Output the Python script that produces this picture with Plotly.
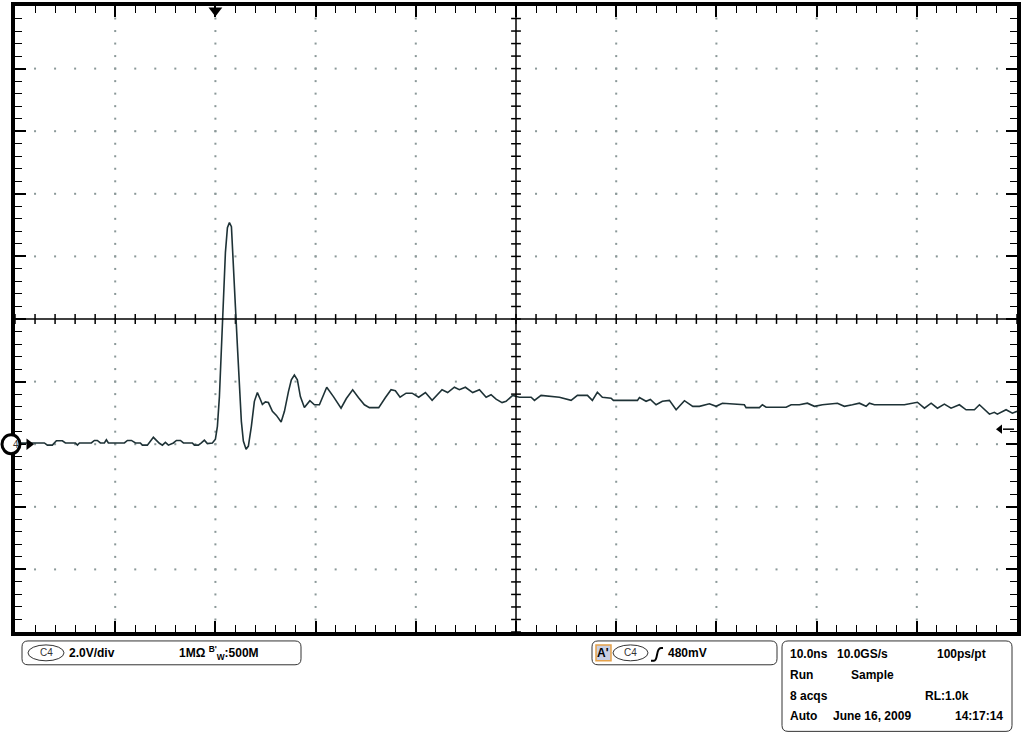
import numpy as np
import plotly.graph_objects as go

# Kanal 4, 2.0 V/div, 10 ns/div, trigger bei t = 0
t_ns = [-20.0, -17.07, -16.77, -16.27, -15.87, -15.27, -14.97, -13.97, -13.77, -13.57,
        -12.38, -12.08, -11.78, -11.48, -11.08, -10.88, -10.68, -9.08, -8.78, -8.38,
        -7.98, -7.49, -7.29, -6.79, -6.19, -5.59, -5.29, -4.99, -4.69, -4.19,
        -3.89, -3.49, -3.19, -2.30, -2.10, -1.70, -1.40, -1.10, -0.80, -0.30,
        0.0, 0.20, 0.40, 0.60, 0.80, 1.00, 1.20, 1.40, 1.60, 1.80,
        2.00, 2.20, 2.40, 2.59, 2.79, 3.06, 3.29, 3.59, 3.89, 4.19,
        4.49, 4.69, 4.99, 5.29, 5.69, 6.09, 6.56, 6.89, 7.29, 7.58,
        7.88, 8.18, 8.48, 8.88, 9.43, 9.88, 10.38, 11.11, 11.78, 12.54,
        13.07, 13.70, 14.27, 14.87, 15.37, 16.30, 16.97, 17.53, 17.96, 18.43,
        19.03, 19.63, 20.29, 20.96, 21.63, 22.62, 23.18, 23.85, 24.35, 24.95,
        25.68, 26.35, 27.02, 27.51, 28.01, 28.61, 29.01, 29.67, 30.34, 31.51,
        31.84, 32.50, 34.33, 35.50, 36.13, 37.13, 37.62, 38.12, 38.62, 39.49,
        39.72, 42.12, 42.32, 42.98, 43.41, 43.98, 44.61, 45.31, 45.98, 46.81,
        47.64, 48.30, 49.30, 49.97, 50.60, 52.79, 52.96, 54.29, 54.59, 54.96,
        56.96, 57.46, 58.28, 59.08, 59.78, 60.58, 62.08, 62.77, 63.57, 64.27,
        64.94, 65.27, 65.77, 66.27, 68.76, 70.06, 70.76, 71.43, 72.06, 72.75,
        73.42, 74.25, 74.92, 75.75, 76.25, 77.25, 77.74, 78.04, 78.91, 79.54,
        80.0]
v_volts = [0.04, 0.04, -0.03, -0.03, 0.11, 0.11, 0.04, 0.04, -0.03, 0.04,
           0.04, 0.12, 0.12, 0.04, 0.04, 0.14, 0.04, 0.04, 0.12, 0.12,
           0.04, 0.04, -0.03, -0.03, 0.22, 0.03, -0.03, 0.06, -0.03, 0.04,
           0.12, 0.12, 0.04, 0.04, -0.03, -0.03, 0.04, 0.13, 0.02, 0.04,
           0.16, 0.57, 1.52, 3.11, 4.70, 6.13, 6.92, 7.08, 6.95, 5.81,
           4.38, 3.11, 1.84, 0.73, 0.10, -0.16, -0.06, 0.57, 1.37, 1.65,
           1.43, 1.27, 1.35, 1.33, 1.05, 0.92, 0.71, 1.05, 1.68, 2.06,
           2.21, 2.06, 1.52, 1.17, 1.39, 1.26, 1.26, 1.82, 1.52, 1.15,
           1.46, 1.74, 1.49, 1.26, 1.17, 1.17, 1.49, 1.74, 1.71, 1.50,
           1.63, 1.63, 1.50, 1.65, 1.40, 1.74, 1.65, 1.82, 1.74, 1.82,
           1.65, 1.74, 1.50, 1.58, 1.44, 1.33, 1.37, 1.56, 1.50, 1.50,
           1.40, 1.56, 1.50, 1.40, 1.56, 1.56, 1.40, 1.66, 1.50, 1.47,
           1.40, 1.40, 1.49, 1.37, 1.43, 1.26, 1.37, 1.40, 1.10, 1.39,
           1.21, 1.21, 1.29, 1.21, 1.31, 1.26, 1.17, 1.17, 1.26, 1.18,
           1.18, 1.26, 1.26, 1.31, 1.21, 1.26, 1.31, 1.21, 1.26, 1.31,
           1.21, 1.31, 1.26, 1.26, 1.26, 1.34, 1.15, 1.31, 1.15, 1.28,
           1.15, 1.26, 1.10, 1.10, 1.26, 0.96, 1.02, 0.96, 1.10, 0.99,
           1.05]

# Einstellungen des Oszilloskops
time_div = 10.0     # ns/div
volt_div = 2.0      # V/div
t_left = -20.0      # Trigger 2 div vom linken Rand
v_bottom = -6.0     # Kanal-Nullpunkt 2 div unter der Mitte
ch_offset = 0.0
trig_time = 0.0
trig_level = 0.48

t_range = [t_left, t_left + 10 * time_div]
v_range = [v_bottom, v_bottom + 10 * volt_div]
t_mid = sum(t_range) / 2
v_mid = sum(v_range) / 2

W, H = 1024, 735
L, R, T, B = 15, 7, 2, 103
PW, PH = W - L - R, H - T - B
v_per_px = (v_range[1] - v_range[0]) / PH


def fx(p):
    return (p - L) / PW


def fy(p):
    return (H - B - p) / PH


def rbox(x0, y0, x1, y1, r=6):
    pt = lambda x, y: f"{fx(x):.5f},{fy(y):.5f}"
    return (f"M {pt(x0 + r, y0)} L {pt(x1 - r, y0)} Q {pt(x1, y0)} {pt(x1, y0 + r)} "
            f"L {pt(x1, y1 - r)} Q {pt(x1, y1)} {pt(x1 - r, y1)} "
            f"L {pt(x0 + r, y1)} Q {pt(x0, y1)} {pt(x0, y1 - r)} "
            f"L {pt(x0, y0 + r)} Q {pt(x0, y0)} {pt(x0 + r, y0)} Z")


fig = go.Figure()

# Punktraster
gx, gy = [], []
minor_t = np.arange(t_range[0], t_range[1] + 1e-9, time_div / 5)
minor_v = np.arange(v_range[0], v_range[1] + 1e-9, volt_div / 5)
for k in range(1, 10):
    if k == 5:
        continue
    xt = t_range[0] + k * time_div
    gx += [xt] * len(minor_v[1:-1])
    gy += list(minor_v[1:-1])
    yv = v_range[0] + k * volt_div
    gx += list(minor_t[1:-1])
    gy += [yv] * len(minor_t[1:-1])
fig.add_trace(go.Scatter(x=gx, y=gy, mode="markers", hoverinfo="skip",
                         marker=dict(symbol="square", size=2, color="#8a9898")))

# Mittelachsen mit Teilstrichen
fig.add_trace(go.Scatter(x=list(minor_t), y=[v_mid] * len(minor_t), mode="markers",
                         hoverinfo="skip",
                         marker=dict(symbol="line-ns", size=7, line=dict(width=1.5, color="black"))))
fig.add_trace(go.Scatter(x=[t_mid] * len(minor_v), y=list(minor_v), mode="markers",
                         hoverinfo="skip",
                         marker=dict(symbol="line-ew", size=7, line=dict(width=1.5, color="black"))))
fig.add_shape(type="line", x0=t_mid, x1=t_mid, y0=v_range[0], y1=v_range[1],
              line=dict(color="black", width=1.5))
fig.add_shape(type="line", x0=t_range[0], x1=t_range[1], y0=v_mid, y1=v_mid,
              line=dict(color="black", width=1.5))

# Signal
fig.add_trace(go.Scatter(x=t_ns, y=v_volts, mode="lines",
                         line=dict(color="#1e3236", width=1.6)))

# Trigger-Marker oben
fig.add_trace(go.Scatter(x=[trig_time], y=[v_range[1] - 4.5 * v_per_px], mode="markers",
                         cliponaxis=False,
                         marker=dict(symbol="triangle-down", size=12, color="black")))

# Trigger-Pegel rechts
fig.add_trace(go.Scatter(x=[t_range[1] - 1.4, t_range[1] - 0.3], y=[trig_level, trig_level],
                         mode="lines", line=dict(color="black", width=1.5), cliponaxis=False))
fig.add_trace(go.Scatter(x=[t_range[1] - 1.7], y=[trig_level], mode="markers", cliponaxis=False,
                         marker=dict(symbol="triangle-left", size=8, color="black")))

# Kanal-Marker links (Kreis mit "4" und Pfeil)
fig.add_trace(go.Scatter(x=[t_left + 1.4], y=[ch_offset], mode="markers", cliponaxis=False,
                         marker=dict(symbol="triangle-right", size=10, color="black")))
fig.add_shape(type="circle", xref="paper", yref="y", layer="above",
              x0=fx(2), x1=fx(20), y0=ch_offset - 9.5 * v_per_px, y1=ch_offset + 9.5 * v_per_px,
              fillcolor="white", line=dict(color="black", width=3))
fig.add_annotation(x=fx(11), y=ch_offset, xref="paper", yref="y", text="4", showarrow=False,
                   font=dict(family="Liberation Sans, Arial", size=10, color="#333"))

# Infokästen unten
box_line = dict(color="#333", width=1)
for bx in [(22, 641, 301, 665), (592, 641, 777, 665), (782, 641, 1012, 732)]:
    fig.add_shape(type="path", xref="paper", yref="paper", path=rbox(*bx), line=box_line)
for ox in [(28, 64), (613, 648)]:
    fig.add_shape(type="circle", xref="paper", yref="paper",
                  x0=fx(ox[0]), x1=fx(ox[1]), y0=fy(661), y1=fy(645), line=box_line)
fig.add_shape(type="rect", xref="paper", yref="paper",
              x0=fx(596), x1=fx(611), y0=fy(661), y1=fy(645),
              fillcolor="#c9cfe3", line=dict(color="#e6a24a", width=1.5))
edge = (f"M {fx(651):.5f},{fy(661):.5f} L {fx(654):.5f},{fy(661):.5f} "
        f"Q {fx(656):.5f},{fy(661):.5f} {fx(657):.5f},{fy(655):.5f} "
        f"Q {fx(658):.5f},{fy(648):.5f} {fx(661):.5f},{fy(648):.5f} "
        f"L {fx(663):.5f},{fy(648):.5f}")
fig.add_shape(type="path", xref="paper", yref="paper", path=edge,
              line=dict(color="black", width=2))

font = dict(family="Liberation Sans, Arial, sans-serif", size=12, color="black")
labels = [
    (46, 653, "C4", "center", 10, False),
    (67, 653, "2.0V/div", "left", 12, True),
    (177, 653, "1MΩ <sup>B'</sup><sub>W</sub>:500M", "left", 12, True),
    (603, 653, "A'", "center", 12, True),
    (630, 653, "C4", "center", 10, False),
    (666, 653, "480mV", "left", 12, True),
    (788, 654, "10.0ns", "left", 12, True),
    (835, 654, "10.0GS/s", "left", 12, True),
    (935, 654, "100ps/pt", "left", 12, True),
    (788, 675, "Run", "left", 12, True),
    (849, 675, "Sample", "left", 12, True),
    (788, 696, "8 acqs", "left", 12, True),
    (923, 696, "RL:1.0k", "left", 12, True),
    (788, 717, "Auto", "left", 12, True),
    (831, 717, "June 16, 2009", "left", 12, True),
    (1005, 717, "14:17:14", "right", 12, True),
]
for x, y, txt, anc, sz, bold in labels:
    fig.add_annotation(x=fx(x), y=fy(y), xref="paper", yref="paper", showarrow=False,
                       text=f"<b>{txt}</b>" if bold else txt, xanchor=anc, yanchor="middle",
                       font=dict(font, size=sz, color="black" if bold else "#333"))

axis = dict(showline=True, linewidth=4, linecolor="black", mirror="ticks",
            ticks="inside", ticklen=11, tickwidth=1.5, tickcolor="black",
            showgrid=False, zeroline=False, showticklabels=False, layer="below traces")
fig.update_xaxes(axis, range=t_range, tick0=t_range[0], dtick=time_div,
                 minor=dict(dtick=time_div / 5, ticks="inside", ticklen=7,
                            tickwidth=1.2, tickcolor="black"))
fig.update_yaxes(axis, range=v_range, tick0=v_range[0], dtick=volt_div,
                 minor=dict(dtick=volt_div / 5, ticks="inside", ticklen=7,
                            tickwidth=1.2, tickcolor="black"))

fig.update_layout(width=W, height=H, margin=dict(l=L, r=R, t=T, b=B),
                  paper_bgcolor="white", plot_bgcolor="white", showlegend=False)

fig.write_html("out.html", config={"displayModeBar": False},
               post_script="document.body.style.margin='0';")
